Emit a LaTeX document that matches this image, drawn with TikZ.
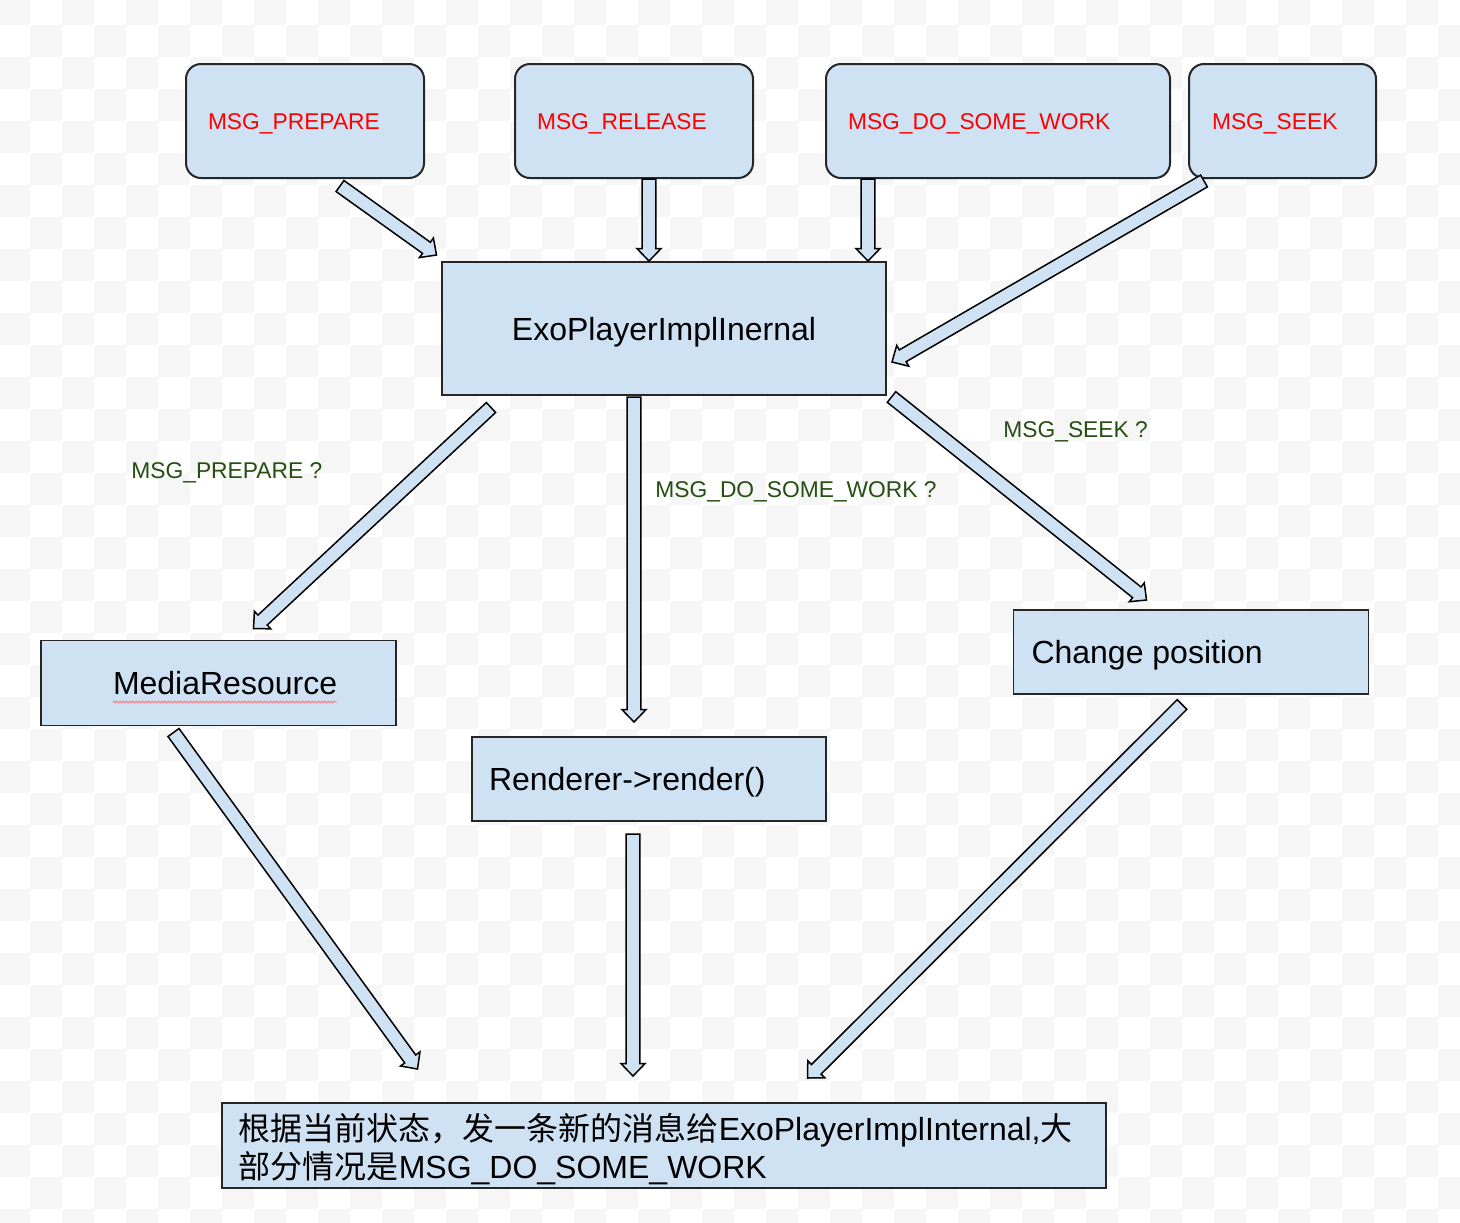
\documentclass[tikz,border=0pt]{standalone}
\usepackage{fontspec}
\setmainfont{Liberation Sans}
\newfontfamily\cjk{Noto Sans CJK SC}
\usetikzlibrary{calc,decorations.pathmorphing}
\definecolor{boxblue}{HTML}{CFE2F3}
\definecolor{lblgreen}{HTML}{274E13}
\definecolor{chk}{HTML}{F6F6F6}
\newcommand{\lbox}[3]{\makebox[#1][l]{\hspace*{#2}#3}}
\newcommand{\blockarrow}[2]{%
  \coordinate (bah) at ($(#2)!6.2pt!(#1)$);
  \draw[barrow] ($(#1)!3.4pt!90:(#2)$) -- ($(bah)!3.4pt!270:(#1)$) -- ($(bah)!6pt!270:(#1)$) -- (#2)
     -- ($(bah)!6pt!90:(#1)$) -- ($(bah)!3.4pt!90:(#1)$) -- ($(#1)!3.4pt!270:(#2)$) -- cycle;}
\begin{document}
\begin{tikzpicture}[x=0.5pt,y=-0.5pt,
  big/.style={font=\fontsize{16pt}{19pt}\selectfont, text height=11.5pt, text depth=0pt},
  small/.style={font=\fontsize{11.4pt}{13.6pt}\selectfont, text height=8.1pt, text depth=0pt},
  msgbox/.style={small, draw=black!85, line width=1pt, fill=boxblue, rounded corners=7.5pt,
     text=red, minimum height=57pt, inner xsep=0pt, inner ysep=0pt},
  rectbox/.style={big, draw=black!85, line width=0.8pt, fill=boxblue, inner sep=0pt},
  resbox/.style={font=\fontsize{16pt}{19pt}\selectfont, draw=black!85, line width=0.8pt, fill=boxblue,
     inner xsep=8.5pt, inner ysep=0pt, text width=425pt, align=left, minimum height=42.5pt},
  lbl/.style={small, text=lblgreen, inner sep=0pt, anchor=west},
  barrow/.style={draw=black, line width=0.75pt, fill=boxblue, line join=miter},
  squiggle/.style={red!55, line width=0.4pt, decorate, decoration={zigzag, segment length=1.6pt, amplitude=0.5pt}}]
\useasboundingbox (0,0) rectangle (1460,1222);
\fill[white] (0,0) rectangle (1460,1222);
\begin{scope}
\clip (0,0) rectangle (1460,1222);
\foreach \r in {-1,...,37} {\foreach \c in {-1,...,44} {
  \pgfmathtruncatemacro{\pp}{mod(\c+\r+4,2)}
  \ifnum\pp=0 \fill[chk] ({30+32*\c},{25+32*\r}) rectangle ++(32,32); \fi
}}
\end{scope}

% top message boxes
\node[msgbox] (prep) at (305,121) {\lbox{119pt}{11pt}{MSG\_PREPARE}};
\node[msgbox] (rel) at (634,121) {\lbox{119pt}{11pt}{MSG\_RELEASE}};
\node[msgbox] (work) at (998,121) {\lbox{172pt}{11pt}{MSG\_DO\_SOME\_WORK}};
\node[msgbox] (seek) at (1282.5,121) {\lbox{93.5pt}{11.5pt}{MSG\_SEEK}};

% main boxes
\node[rectbox, minimum width=222pt, minimum height=66.5pt] (exo) at (664,328.5) {ExoPlayerImplInernal};
\node[rectbox, minimum height=42.5pt] (media) at (218.5,683) {\lbox{177.5pt}{36pt}{MediaResource}};
\node[rectbox, minimum height=42pt] (rend) at (649,779) {\lbox{177pt}{8.5pt}{Renderer->render()}};
\node[rectbox, minimum height=42pt] (chg) at (1191,652) {\lbox{177.5pt}{9pt}{Change position}};
\node[resbox] (res) at (663.75,1145.5) {\rule{0pt}{17pt}{\cjk 根据当前状态，发一条新的消息给}ExoPlayerImplInternal,{\cjk 大}\\{\cjk 部分情况是}MSG\_DO\_SOME\_WORK};

\draw[squiggle] (113,702) -- (337,702);

% labels
\node[lbl] (l1) at (131,470) {MSG\_PREPARE ?};
\node[lbl] (l2) at (655,489) {MSG\_DO\_SOME\_WORK ?};
\node[lbl] (l3) at (1003,429) {MSG\_SEEK ?};

% arrow end points
\coordinate (a1s) at (340,186);    \coordinate (a1e) at (436.5,255);
\coordinate (a2s) at (649,179);    \coordinate (a2e) at (649,261);
\coordinate (a3s) at (868,179);    \coordinate (a3e) at (868,261);
\coordinate (a4s) at (1204,181);   \coordinate (a4e) at (892,362);
\coordinate (a5s) at (491,407.5);  \coordinate (a5e) at (253.5,628.5);
\coordinate (a6s) at (634,397);    \coordinate (a6e) at (634,722);
\coordinate (a7s) at (891.5,397);  \coordinate (a7e) at (1146.5,600);
\coordinate (a8s) at (173.5,732.5);\coordinate (a8e) at (417.5,1069);
\coordinate (a9s) at (633,834);    \coordinate (a9e) at (633,1076);
\coordinate (a10s) at (1182,704.5);\coordinate (a10e) at (807.5,1078);

\blockarrow{a1s}{a1e}
\blockarrow{a2s}{a2e}
\blockarrow{a3s}{a3e}
\blockarrow{a4s}{a4e}
\blockarrow{a5s}{a5e}
\blockarrow{a6s}{a6e}
\blockarrow{a7s}{a7e}
\blockarrow{a8s}{a8e}
\blockarrow{a9s}{a9e}
\blockarrow{a10s}{a10e}
\end{tikzpicture}
\end{document}
